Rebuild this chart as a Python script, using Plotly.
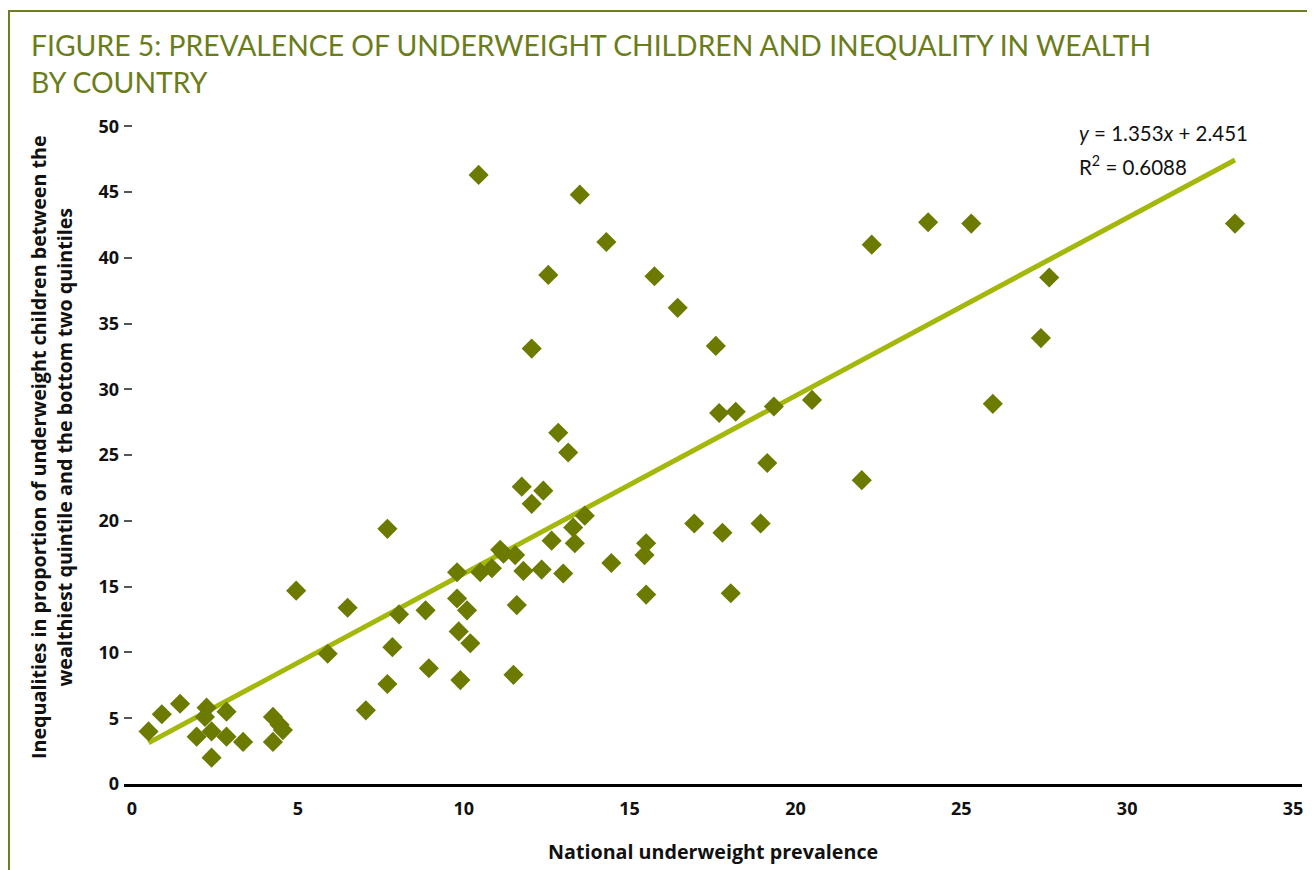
import plotly.graph_objects as go

# National underweight prevalence (x) and inequality between wealthiest and bottom two quintiles (y)
prevalence = [
    0.5, 0.9, 1.45, 1.95, 2.2, 2.25, 2.4, 2.4, 2.85, 2.85, 3.35, 4.25, 4.45, 4.55, 4.25,
    4.95, 5.9, 6.5, 7.05, 7.7, 7.7, 7.85, 8.05, 8.85, 8.95, 9.8, 9.8, 9.85, 9.9, 10.1,
    10.2, 10.45, 10.5, 10.85, 11.1, 11.2, 11.5, 11.55, 11.6, 11.75, 11.8, 12.05, 12.05,
    12.35, 12.4, 12.55, 12.65, 12.85, 13.0, 13.15, 13.3, 13.35, 13.5, 13.65, 14.3, 14.45,
    15.5, 15.45, 15.5, 15.75, 16.45, 16.95, 17.6, 17.7, 17.8, 18.05, 18.2, 18.95, 19.15,
    19.35, 20.5, 22.0, 22.3, 24.0, 25.3, 25.95, 27.4, 27.65, 33.25,
]
inequality = [
    4.0, 5.3, 6.1, 3.6, 5.1, 5.8, 4.0, 2.0, 5.5, 3.6, 3.2, 5.1, 4.5, 4.1, 3.2,
    14.7, 9.9, 13.4, 5.6, 19.4, 7.6, 10.4, 12.9, 13.2, 8.8, 16.1, 14.1, 11.6, 7.9, 13.2,
    10.7, 46.3, 16.1, 16.4, 17.8, 17.5, 8.3, 17.4, 13.6, 22.6, 16.2, 33.1, 21.3,
    16.3, 22.3, 38.7, 18.5, 26.7, 16.0, 25.2, 19.5, 18.3, 44.8, 20.4, 41.2, 16.8,
    18.3, 17.4, 14.4, 38.6, 36.2, 19.8, 33.3, 28.2, 19.1, 14.5, 28.3, 19.8, 24.4,
    28.7, 29.2, 23.1, 41.0, 42.7, 42.6, 28.9, 33.9, 38.5, 42.6,
]

slope = 1.353
intercept = 2.451
r_squared = 0.6088

x_ticks = [0, 5, 10, 15, 20, 25, 30, 35]
y_ticks = [0, 5, 10, 15, 20, 25, 30, 35, 40, 45, 50]

title_text = "FIGURE 5: PREVALENCE OF UNDERWEIGHT CHILDREN AND INEQUALITY IN WEALTH<br>BY COUNTRY"
x_title = "National underweight prevalence"
y_title = ("Inequalities in proportion of underweight children between the<br>"
           "wealthiest quintile and the bottom two quintiles")

FONT = "Lato"
BOLD_FONT = "Open Sans"
OLIVE = "#6d7a00"
TREND = "#a4b80c"
FRAME = "#6f7d22"

trend_x = [min(prevalence), max(prevalence)]
trend_y = [slope * v + intercept for v in trend_x]

fig = go.Figure()
fig.add_trace(go.Scatter(
    x=trend_x, y=trend_y, mode="lines",
    line=dict(color=TREND, width=5), hoverinfo="skip", showlegend=False,
))
fig.add_trace(go.Scatter(
    x=prevalence, y=inequality, mode="markers",
    marker=dict(symbol="diamond", size=15.5, color=OLIVE, line=dict(width=0)),
    showlegend=False,
))

# page body has an 8px margin; work in screen pixels and convert
OFF = 8
W, H = 1315 - OFF, 870 - OFF
Y_MAX = 50.4
# plot area in screen px: x 124..1302, y (126 - extra)..784 so that 50 sits at 126
L, R, B = 124 - OFF, 1302 - OFF, 784 - OFF
T = int(round(B - (B - (126 - OFF)) * Y_MAX / 50.0))
pw, ph = R - L, B - T

def px(xs):
    return (xs - OFF - L) / pw

def py(ys):
    return (B - (ys - OFF)) / ph

fig.update_layout(
    width=W, height=H,
    margin=dict(l=L, r=W - R, t=T, b=H - B, pad=0),
    paper_bgcolor="white", plot_bgcolor="white",
    font=dict(family=FONT, color="#111111"),
    xaxis=dict(
        range=[-0.24, 35.27], tickvals=x_ticks, ticktext=[str(v) for v in x_ticks],
        showgrid=False, zeroline=False, showline=True, linecolor="black", linewidth=3,
        ticks="outside", ticklen=6, tickcolor="rgba(0,0,0,0)",
        tickfont=dict(family=BOLD_FONT, size=18, color="#111111", weight="bold"),
    ),
    yaxis=dict(
        range=[0, Y_MAX], tickvals=y_ticks, ticktext=[str(v) for v in y_ticks],
        showgrid=False, zeroline=False, showline=False,
        ticks="inside", ticklen=8, tickcolor="#555555", tickwidth=1.5,
        tickfont=dict(family=BOLD_FONT, size=18, color="#111111", weight="bold"),
        ticklabelstandoff=4,
    ),
    annotations=[
        dict(text=title_text, xref="paper", yref="paper", x=px(29), y=py(26),
             xanchor="left", yanchor="top", align="left", showarrow=False,
             font=dict(family=FONT, size=28.3, color="#6b7d1a")),
        dict(text=x_title, xref="paper", yref="paper", x=px(713), y=py(851),
             xanchor="center", yanchor="middle", showarrow=False,
             font=dict(family=BOLD_FONT, size=19.7, color="#111111", weight="bold")),
        dict(text=y_title, xref="paper", yref="paper", x=px(51), y=py(447),
             xanchor="center", yanchor="middle", showarrow=False, textangle=-90,
             font=dict(family=BOLD_FONT, size=19.7, color="#111111", weight="bold")),
        dict(text="<i>y</i> = %.3f<i>x</i> + %.3f" % (slope, intercept),
             xref="paper", yref="paper", x=px(1077), y=py(133),
             xanchor="left", yanchor="middle", showarrow=False,
             font=dict(family=FONT, size=20.5, color="#111111")),
        dict(text="R<sup>2</sup> = %.4f" % r_squared,
             xref="paper", yref="paper", x=px(1077), y=py(165),
             xanchor="left", yanchor="middle", showarrow=False,
             font=dict(family=FONT, size=20.5, color="#111111")),
    ],
    shapes=[
        dict(type="line", xref="paper", yref="paper", x0=px(OFF), x1=px(1320),
             y0=py(OFF + 3), y1=py(OFF + 3), line=dict(color=FRAME, width=2)),
        dict(type="line", xref="paper", yref="paper", x0=px(OFF + 1), x1=px(OFF + 1),
             y0=py(OFF + 3), y1=py(880), line=dict(color=FRAME, width=2)),
    ],
)

fig.write_html("out.html")
